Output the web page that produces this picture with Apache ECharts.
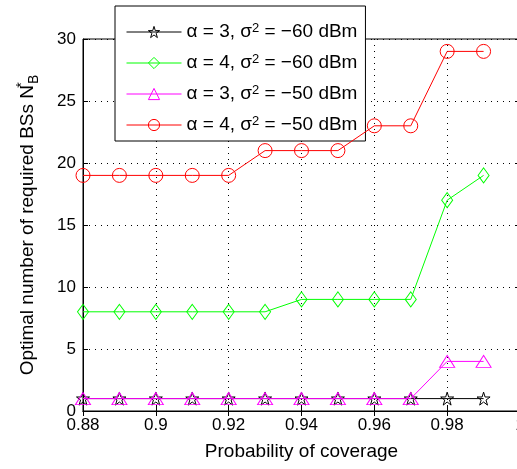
<!DOCTYPE html>
<html><head><meta charset="utf-8">
<script src="https://cdn.jsdelivr.net/npm/echarts@6/dist/echarts.min.js"></script>
<style>html,body{margin:0;padding:0;background:#fff}#c{width:517px;height:469px}</style>
</head><body><div id="c"></div>
<script>
const coverage = [0.88,0.89,0.90,0.91,0.92,0.93,0.94,0.95,0.96,0.97,0.98,0.99];
const a3s60 = [1,1,1,1,1,1,1,1,1,1,1,1];
const a4s60 = [8,8,8,8,8,8,9,9,9,9,17,19];
const a3s50 = [1,1,1,1,1,1,1,1,1,1,4,4];
const a4s50 = [19,19,19,19,19,21,21,21,23,23,29,29];
const alphas = [3,4,3,4];
const sigmas = ['−60','−60','−50','−50'];
const seriesNames = ['α = 3, σ2 = −60 dBm','α = 4, σ2 = −60 dBm','α = 3, σ2 = −50 dBm','α = 4, σ2 = −50 dBm'];

const FONT = '"Liberation Sans", Arial, sans-serif';
const star = 'path://M50,2 L61,37 L98,37 L68,59 L79,95 L50,73 L21,95 L32,59 L2,37 L39,37 Z';
const colors = ['#000000','#00ff00','#ff00ff','#ff0000'];
const symbols = [star,'diamond','triangle','circle'];
const sizes = [[13,13],[11,15],[15,12],[14,14]];
const values = [a3s60,a4s60,a3s50,a4s50];

const series = values.map((v,i)=>({
  name: seriesNames[i], type:'line',
  data: coverage.map((x,j)=>[x,v[j]]),
  symbol: symbols[i], symbolSize: sizes[i], showAllSymbol:true,
  lineStyle:{color:colors[i], width:1},
  itemStyle:{color:'rgba(0,0,0,0)', borderColor:colors[i], borderWidth:1},
  emphasis:{disabled:true}, animation:false, z: 2+i
}));

const chart = echarts.init(document.getElementById('c'));
chart.setOption({
  animation:false,
  grid:{left:83, top:39, width:437, height:372, show:true, borderColor:'#000', borderWidth:1, backgroundColor:'transparent', containLabel:false, outerBoundsMode:'none'},
  legend:{
    left:115, top:6, orient:'vertical', backgroundColor:'#fff', borderColor:'#000', borderWidth:1,
    padding:[16,8,3,11], itemWidth:55, itemHeight:14, itemGap:8,
    data: seriesNames,
    lineStyle:{width:1}, itemStyle:{borderWidth:1},
    formatter: function(name){
      const i = seriesNames.indexOf(name);
      return '{t|α = '+alphas[i]+', σ}{s|2}{t| = '+sigmas[i]+' dBm}';
    },
    textStyle:{fontFamily:FONT, fontSize:19, color:'#000', rich:{
      t:{fontFamily:FONT, fontSize:19, color:'#000', lineHeight:20},
      s:{fontFamily:FONT, fontSize:13, color:'#000', verticalAlign:'top', padding:[0,0,10,0], lineHeight:20}
    }}
  },
  xAxis:[{
    type:'value', min:0.88, max:1.0, interval:0.02,
    axisLine:{show:true, lineStyle:{color:'#000', width:1}},
    axisTick:{inside:true, length:5, lineStyle:{color:'#000'}},
    axisLabel:{fontFamily:FONT, fontSize:17, color:'#000', margin:6,
      formatter:v=>{const r=Math.round(v*100)/100; return String(r);}},
    splitLine:{show:true, lineStyle:{color:'#000', type:[1,5], width:1}},
    name:'Probability of coverage', nameLocation:'middle', nameGap:31,
    nameTextStyle:{fontFamily:FONT, fontSize:19, color:'#000'}
  },{
    type:'value', min:0.88, max:1.0, interval:0.02, position:'top',
    axisLine:{show:true, lineStyle:{color:'#000'}},
    axisTick:{inside:true, length:5, lineStyle:{color:'#000'}},
    axisLabel:{show:false}, splitLine:{show:false}
  }],
  yAxis:[{
    type:'value', min:0, max:30, interval:5,
    axisLine:{show:true, lineStyle:{color:'#000', width:1}},
    axisTick:{inside:true, length:5, lineStyle:{color:'#000'}},
    axisLabel:{fontFamily:FONT, fontSize:17, color:'#000', margin:7},
    splitLine:{show:true, lineStyle:{color:'#000', type:[1,5], width:1}},
    name:'{t|Optimal number of required BSs N}{s|*}{b|B}', nameLocation:'middle', nameGap:42, nameRotate:90,
    nameTextStyle:{fontFamily:FONT, fontSize:19, color:'#000', rich:{
      t:{fontFamily:FONT, fontSize:19, color:'#000', lineHeight:26},
      s:{fontFamily:FONT, fontSize:14, color:'#000', verticalAlign:'top', lineHeight:26, width:0},
      b:{fontFamily:FONT, fontSize:14, color:'#000', verticalAlign:'bottom', lineHeight:26, padding:[8,0,0,1]}
    }}
  },{
    type:'value', min:0, max:30, interval:5, position:'right',
    axisLine:{show:true, lineStyle:{color:'#000'}},
    axisTick:{inside:true, length:5, lineStyle:{color:'#000'}},
    axisLabel:{show:false}, splitLine:{show:false}
  }],
  series: series
});
</script></body></html>
